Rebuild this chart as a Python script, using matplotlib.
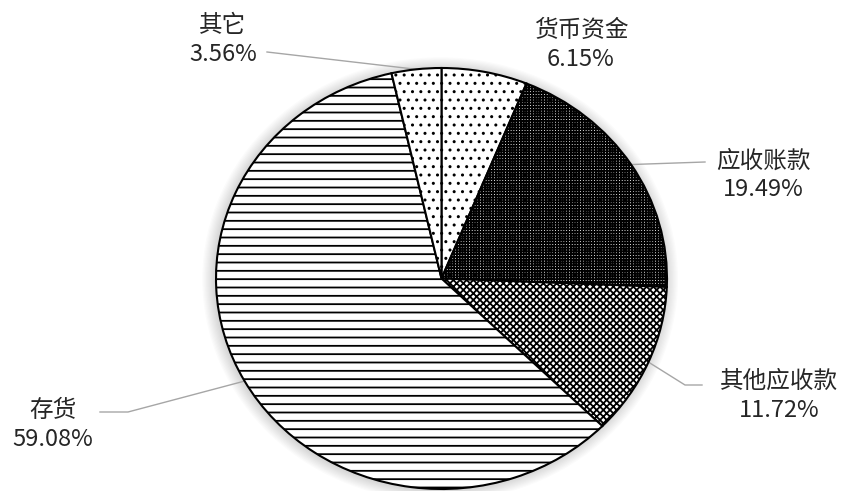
import matplotlib.pyplot as plt
from matplotlib.patches import Ellipse
import numpy as np

plt.rcParams['font.family'] = ['Noto Sans CJK SC', 'DejaVu Sans']
plt.rcParams['hatch.linewidth'] = 1.3

# data
categories = ['货币资金', '应收账款', '其他应收款', '存货', '其它']
shares = [6.15, 19.49, 11.72, 59.08, 3.56]
hatches = ['..', '++++++', 'xxxxx', '--', '..']

# layout in pixels (from top-left of the 849x491 image)
W, H = 849, 491
cx, cy = 441.5, 278.5
rx, ry = 225.5, 210.5

def px(x, y):
    return (x - cx) / rx, (cy - y) / ry

# label block centre and leader line points (after the wedge edge)
label_pos = {
    '货币资金': ((581, 45), []),
    '应收账款': ((763, 175), [(705, 162)]),
    '其他应收款': ((779, 396), [(685, 385), (702, 385)]),
    '存货': ((53, 425), [(128, 412), (100, 412)]),
    '其它': ((223, 40), [(267, 52)]),
}

fig = plt.figure(figsize=(W / 100, H / 100), dpi=100)
ax = fig.add_axes([0, 0, 1, 1])

# soft glow behind the pie
for k in range(10):
    d = 2 + 0.011 * (k + 1)
    ax.add_patch(Ellipse((-0.006, -0.004), d, d, facecolor='black',
                         edgecolor='none', alpha=0.016, zorder=0))

wedges, _ = ax.pie(shares, startangle=90, counterclock=False,
                   colors=['white'] * len(shares), hatch=hatches,
                   wedgeprops=dict(edgecolor='black', linewidth=1.5))
for w, h in zip(wedges, hatches):
    w.set_zorder(2)
    if h == '..' and hasattr(w, 'set_hatch_linewidth'):
        w.set_hatch_linewidth(1.0)

ax.set_aspect('auto')
ax.set_xlim(-cx / rx, (W - cx) / rx)
ax.set_ylim(-(H - cy) / ry, cy / ry)
ax.axis('off')

for w, name, val in zip(wedges, categories, shares):
    (tx, ty), pts = label_pos[name]
    if pts:
        mid = np.deg2rad((w.theta1 + w.theta2) / 2)
        xs = [np.cos(mid)] + [px(*p)[0] for p in pts]
        ys = [np.sin(mid)] + [px(*p)[1] for p in pts]
        ax.plot(xs, ys, color='#a6a6a6', lw=1.0, clip_on=False, zorder=1)
    x, y = px(tx, ty)
    ax.text(x, y, f'{name}\n{val:.2f}%', ha='center', va='center',
            fontsize=17, color='#262626', linespacing=1.3)

fig.savefig('out.png', dpi=100)
